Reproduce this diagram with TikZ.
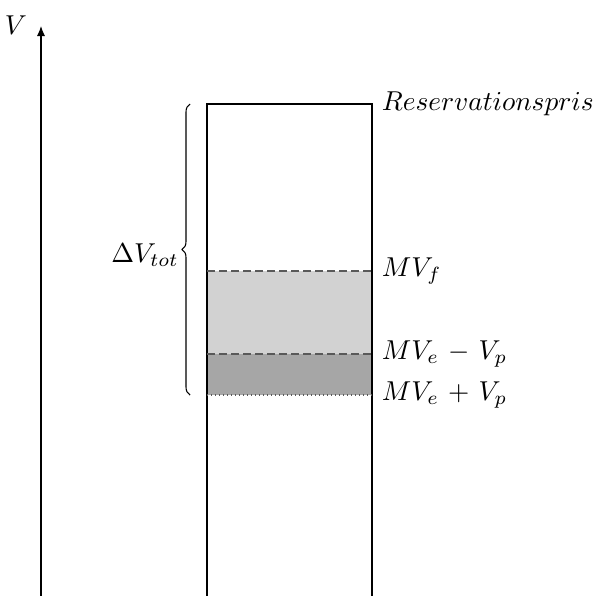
\documentclass[tikz,border=0pt]{standalone}
\usepackage{graphicx}
\usetikzlibrary{decorations.pathreplacing,arrows.meta}
\newcommand{\bigmath}[1]{\scalebox{2.05}{$\medmuskip=6mu #1$}}
\begin{document}
\begin{tikzpicture}[x=0.75pt,y=-0.75pt,
  boxline/.style={line width=1.5pt},
  lbl/.style={anchor=west,inner sep=2pt},
  dashln/.style={gray!70!black,line width=0.8pt,dash pattern=on 6pt off 3pt}]
\useasboundingbox (0,0) rectangle (593,596);
\fill[gray!35] (207,271) rectangle (372,354);
\fill[gray!70] (207,354) rectangle (372,395);
\coordinate (tl) at (207,104);
\coordinate (tr) at (372,104);
\coordinate (bl) at (207,596);
\coordinate (br) at (372,596);
\draw[boxline] (bl) -- (tl) -- (tr) -- (br);
\coordinate (d1l) at (207,271); \coordinate (d1r) at (372,271);
\coordinate (d2l) at (207,354); \coordinate (d2r) at (372,354);
\coordinate (d3l) at (207,395); \coordinate (d3r) at (372,395);
\draw[dashln] (d1l) -- (d1r);
\draw[dashln] (d2l) -- (d2r);
\draw[gray!70!black,line width=0.8pt,dash pattern=on 0.8pt off 2.2pt] (d3l) -- (d3r);
\coordinate (ax0) at (41,596);
\coordinate (ax1) at (41,26);
\draw[-{Latex[length=7.5pt,width=6pt]},line width=0.8pt] (ax0) -- (ax1);
\node (V) at (16,25) {\bigmath{V}};
\node[lbl] (rp) at (379,104) {\bigmath{Reservationspris}};
\node[lbl] (mvf) at (379,271) {\bigmath{MV_f}};
\node[lbl] (mvm) at (379,354) {\bigmath{MV_e - V_p}};
\node[lbl] (mvp) at (379,395) {\bigmath{MV_e + V_p}};
\coordinate (b0) at (190,395);
\coordinate (b1) at (190,104);
\draw[decorate,decoration={brace,amplitude=6pt},line width=0.8pt] (b0) -- (b1)
  node[midway,xshift=-7pt,yshift=-4pt,anchor=east,inner sep=1pt] (dv) {\bigmath{\Delta V_{tot}}};
\end{tikzpicture}
\end{document}
